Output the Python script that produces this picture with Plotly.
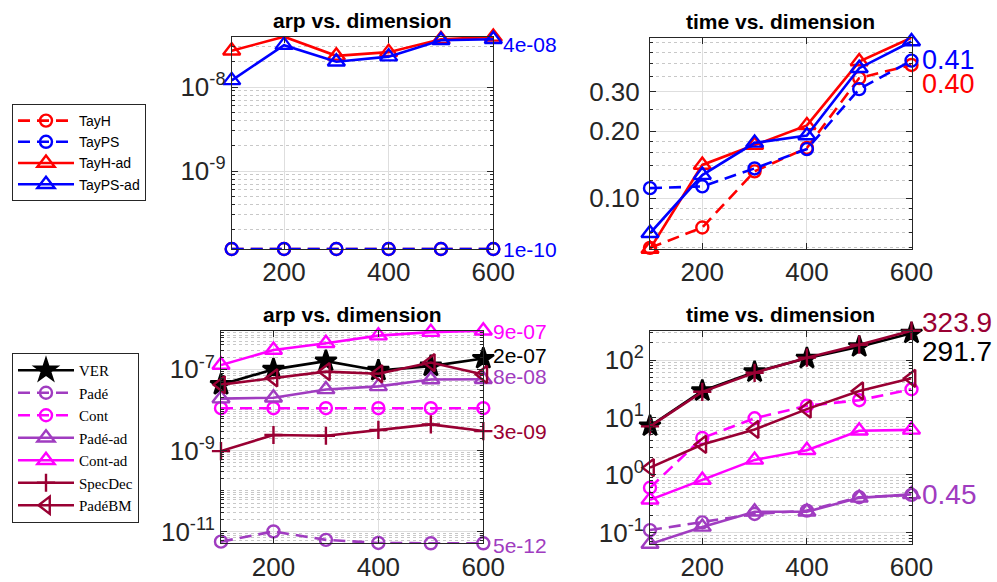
import math
import plotly.graph_objects as go

# ---------------- data ----------------
dims = [100, 200, 300, 400, 500, 600]

# top row: arp vs. dimension
tayh_arp = [1.18e-10, 1.18e-10, 1.18e-10, 1.18e-10, 1.18e-10, 1.18e-10]
tayps_arp = [1.18e-10, 1.18e-10, 1.18e-10, 1.18e-10, 1.18e-10, 1.18e-10]
tayh_ad_arp = [2.7e-8, 3.97e-8, 2.35e-8, 2.6e-8, 3.7e-8, 3.95e-8]
tayps_ad_arp = [1.2e-8, 3.15e-8, 2.0e-8, 2.3e-8, 3.6e-8, 3.7e-8]

# top row: time vs. dimension
tayh_time = [0.060, 0.074, 0.132, 0.168, 0.345, 0.395]
tayps_time = [0.111, 0.113, 0.136, 0.166, 0.308, 0.413]
tayh_ad_time = [0.0593, 0.141, 0.173, 0.212, 0.409, 0.523]
tayps_ad_time = [0.0697, 0.127, 0.177, 0.191, 0.382, 0.503]

top_names = ["TayH", "TayPS", "TayH-ad", "TayPS-ad"]

# bottom row: arp vs. dimension
ver_arp = [4.2e-8, 1.0e-7, 1.6e-7, 9.4e-8, 1.2e-7, 1.85e-7]
pade_arp = [5.6e-12, 1.0e-11, 6.2e-12, 5.2e-12, 5.1e-12, 5.1e-12]
cont_arp = [1.1e-8, 1.1e-8, 1.1e-8, 1.1e-8, 1.1e-8, 1.1e-8]
pade_ad_arp = [1.9e-8, 2.0e-8, 3.2e-8, 3.8e-8, 5.6e-8, 5.7e-8]
cont_ad_arp = [1.28e-7, 3.0e-7, 4.4e-7, 6.8e-7, 8.3e-7, 9.0e-7]
specdec_arp = [9.6e-10, 2.4e-9, 2.3e-9, 3.2e-9, 4.4e-9, 3.0e-9]
padebm_arp = [4.2e-8, 6.2e-8, 8.8e-8, 7.8e-8, 1.47e-7, 7.5e-8]

# bottom row: time vs. dimension
ver_time = [7.1, 29.0, 62.0, 107.0, 170.0, 291.7]
pade_time = [0.11, 0.15, 0.21, 0.24, 0.41, 0.45]
cont_time = [0.6, 4.4, 9.7, 16.0, 20.0, 31.0]
pade_ad_time = [0.063, 0.125, 0.23, 0.23, 0.40, 0.46]
cont_ad_time = [0.37, 0.82, 1.83, 2.7, 5.9, 6.1]
specdec_time = [7.0, 28.0, 60.0, 110.0, 185.0, 323.9]
padebm_time = [1.34, 3.4, 6.2, 14.0, 29.0, 48.0]

bottom_names = ["VER", "Padé", "Cont", "Padé-ad", "Cont-ad", "SpecDec", "PadéBM"]

x_ticks = [200, 400, 600]

# end-of-line value labels
tl_labels = ["4e-08", "1e-10"]
tr_labels = ["0.41", "0.40"]
bl_labels = ["9e-07", "2e-07", "8e-08", "3e-09", "5e-12"]
br_labels = ["323.9", "291.7", "0.45"]

# ---------------- styles ----------------
RED = "#ff0000"
BLUE = "#0000ff"
BLACK = "#000000"
PURPLE = "#a03cc0"
MAGENTA = "#ff00ff"
DARKRED = "#990033"
DASH = "12px,7px"
LW = 2.6
TXT = "#262626"
FONT = "Liberation Sans, Arial, sans-serif"

W, H = 997, 582


def px_x(a, b):
    return [a / W, b / W]


def px_y(top, bottom):
    return [1 - bottom / H, 1 - top / H]


dom = {
    1: (px_x(231.7, 493.3), px_y(36.7, 249.0)),
    2: (px_x(650.0, 911.5), px_y(37.7, 249.0)),
    3: (px_x(221.0, 483.3), px_y(330.7, 543.3)),
    4: (px_x(650.0, 911.5), px_y(330.7, 544.0)),
}

top_styles = [
    dict(color=RED, dash=DASH, symbol="circle-open", size=12),
    dict(color=BLUE, dash=DASH, symbol="circle-open", size=12),
    dict(color=RED, dash="solid", symbol="triangle-up-open", size=15),
    dict(color=BLUE, dash="solid", symbol="triangle-up-open", size=15),
]
bottom_styles = [
    dict(color=BLACK, dash="solid", symbol="star", size=16),
    dict(color=PURPLE, dash=DASH, symbol="circle-open", size=12),
    dict(color=MAGENTA, dash=DASH, symbol="circle-open", size=12),
    dict(color=PURPLE, dash="solid", symbol="triangle-up-open", size=15),
    dict(color=MAGENTA, dash="solid", symbol="triangle-up-open", size=15),
    dict(color=DARKRED, dash="solid", symbol="cross-thin-open", size=13),
    dict(color=DARKRED, dash="solid", symbol="triangle-left-open", size=15),
]

fig = go.Figure()


def add_series(values, name, st, ax, showlegend, legend):
    xa = "x" if ax == 1 else f"x{ax}"
    ya = "y" if ax == 1 else f"y{ax}"
    fig.add_trace(go.Scatter(
        x=dims, y=values, name=name, mode="lines+markers",
        xaxis=xa, yaxis=ya, cliponaxis=False,
        line=dict(color=st["color"], width=LW, dash=st["dash"]),
        marker=dict(symbol=st["symbol"], size=st["size"], color=st["color"],
                    line=dict(color=st["color"], width=2.4)),
        showlegend=showlegend, legend=legend,
    ))


top_arp = [tayh_arp, tayps_arp, tayh_ad_arp, tayps_ad_arp]
top_time = [tayh_time, tayps_time, tayh_ad_time, tayps_ad_time]
bot_arp = [ver_arp, pade_arp, cont_arp, pade_ad_arp, cont_ad_arp, specdec_arp, padebm_arp]
bot_time = [ver_time, pade_time, cont_time, pade_ad_time, cont_ad_time, specdec_time, padebm_time]

for vals, nm, st in zip(top_arp, top_names, top_styles):
    add_series(vals, nm, st, 1, True, "legend")
for vals, nm, st in zip(top_time, top_names, top_styles):
    add_series(vals, nm, st, 2, False, "legend")
for vals, nm, st in zip(bot_arp, bottom_names, bottom_styles):
    add_series(vals, nm, st, 3, True, "legend2")
for vals, nm, st in zip(bot_time, bottom_names, bottom_styles):
    add_series(vals, nm, st, 4, False, "legend2")


def log_range(series_list):
    allv = [v for s in series_list for v in s]
    return [math.log10(min(allv)), math.log10(max(allv))]


def decade_minor(lo, hi):
    out = []
    for k in range(math.floor(lo) - 1, math.ceil(hi) + 1):
        for m in range(1, 10):
            out.append(m * 10 ** k)
    return out


def sup_ticks(exps):
    return [10.0 ** e for e in exps], [f"10<sup>{e}</sup>" for e in exps]


axis_common = dict(
    showline=True, linecolor=TXT, linewidth=1, mirror="allticks",
    ticks="inside", ticklen=6, tickcolor=TXT, automargin=False,
    tickfont=dict(family=FONT, size=26, color=TXT),
    showgrid=True, gridcolor="#dedede", gridwidth=1, zeroline=False,
)

layout_axes = {}
for i in range(1, 5):
    xd, yd = dom[i]
    xk = "xaxis" if i == 1 else f"xaxis{i}"
    layout_axes[xk] = dict(
        axis_common, domain=xd, range=[min(dims), max(dims)],
        tickmode="array", tickvals=x_ticks, ticktext=[str(t) for t in x_ticks],
        anchor="y" if i == 1 else f"y{i}", ticklabelstandoff=0,
    )

rng1 = log_range(top_arp)
tv1, tt1 = sup_ticks([-9, -8])
rng2 = log_range(top_time)
rng3 = log_range(bot_arp)
tv3, tt3 = sup_ticks([-11, -9, -7])
rng4 = log_range(bot_time)
tv4, tt4 = sup_ticks([-1, 0, 1, 2])

minor_grid = dict(showgrid=True, griddash="dot", gridcolor="#c8c8c8", gridwidth=1,
                  ticks="inside", ticklen=3, tickcolor=TXT)

layout_axes["yaxis"] = dict(axis_common, domain=dom[1][1], type="log", range=rng1,
                            tickmode="array", tickvals=tv1, ticktext=tt1, anchor="x",
                            minor=dict(minor_grid, tickvals=decade_minor(*rng1)))
layout_axes["yaxis2"] = dict(axis_common, domain=dom[2][1], type="log", range=rng2,
                             tickmode="array", tickvals=[0.1, 0.2, 0.3],
                             ticktext=["0.10", "0.20", "0.30"], anchor="x2",
                             ticklabelstandoff=4,
                             minor=dict(minor_grid, tickvals=[0.06, 0.07, 0.08, 0.09, 0.12, 0.14,
                                                              0.16, 0.18, 0.25, 0.35, 0.4, 0.45, 0.5]))
layout_axes["yaxis3"] = dict(axis_common, domain=dom[3][1], type="log", range=rng3,
                             tickmode="array", tickvals=tv3, ticktext=tt3, anchor="x3",
                             minor=dict(minor_grid, tickvals=decade_minor(*rng3)))
layout_axes["yaxis4"] = dict(axis_common, domain=dom[4][1], type="log", range=rng4,
                             tickmode="array", tickvals=tv4, ticktext=tt4, anchor="x4",
                             minor=dict(minor_grid, tickvals=decade_minor(*rng4)))

fig.update_layout(**layout_axes)

annotations = []
# titles
for i, title in [(1, "arp vs. dimension"), (2, "time vs. dimension"),
                 (3, "arp vs. dimension"), (4, "time vs. dimension")]:
    xd, yd = dom[i]
    annotations.append(dict(
        xref="paper", yref="paper", x=(xd[0] + xd[1]) / 2, y=yd[1], yshift=3,
        text=f"<b>{title}</b>", showarrow=False, xanchor="center", yanchor="bottom",
        font=dict(family=FONT, size=21, color=BLACK)))


def end_label(ax, text, series, color, size, yshift=0):
    xa = "x" if ax == 1 else f"x{ax}"
    ya = "y" if ax == 1 else f"y{ax}"
    annotations.append(dict(
        xref=xa, yref=ya, x=dims[-1], y=math.log10(series[-1]), text=text,
        showarrow=False, xanchor="left", yanchor="middle", xshift=8, yshift=yshift,
        font=dict(family=FONT, size=size, color=color)))


end_label(1, tl_labels[0], tayps_ad_arp, BLUE, 21, -5)
end_label(1, tl_labels[1], tayps_arp, BLUE, 21)
end_label(2, tr_labels[0], tayps_time, BLUE, 27, 1)
end_label(2, tr_labels[1], tayh_time, RED, 27, -19)
end_label(3, bl_labels[0], cont_ad_arp, MAGENTA, 21, -1)
end_label(3, bl_labels[1], ver_arp, BLACK, 21, 3)
end_label(3, bl_labels[2], pade_ad_arp, PURPLE, 21, 3)
end_label(3, bl_labels[3], specdec_arp, DARKRED, 21)
end_label(3, bl_labels[4], pade_arp, PURPLE, 21, -2)
end_label(4, br_labels[0], specdec_time, DARKRED, 28, 8)
end_label(4, br_labels[1], ver_time, BLACK, 28, -18)
end_label(4, br_labels[2], pade_time, PURPLE, 28)

fig.update_layout(
    width=W, height=H, margin=dict(l=0, r=0, t=0, b=0, autoexpand=False),
    paper_bgcolor="white", plot_bgcolor="white",
    annotations=annotations,
    legend=dict(x=12 / W, y=1 - 104 / H, xanchor="left", yanchor="top",
                bgcolor="white", bordercolor=TXT, borderwidth=1,
                font=dict(family=FONT, size=14, color=BLACK),
                tracegroupgap=0, itemwidth=56),
    legend2=dict(x=12 / W, y=1 - 353 / H, xanchor="left", yanchor="top",
                 bgcolor="white", bordercolor=TXT, borderwidth=1,
                 font=dict(family="Liberation Serif, Times New Roman, serif", size=15, color=BLACK),
                 tracegroupgap=0, itemwidth=56),
)

fig.write_html(
    "out.html",
    config={"responsive": False, "displayModeBar": False},
    post_script="document.body.style.margin='0';document.body.style.overflow='hidden';",
)
